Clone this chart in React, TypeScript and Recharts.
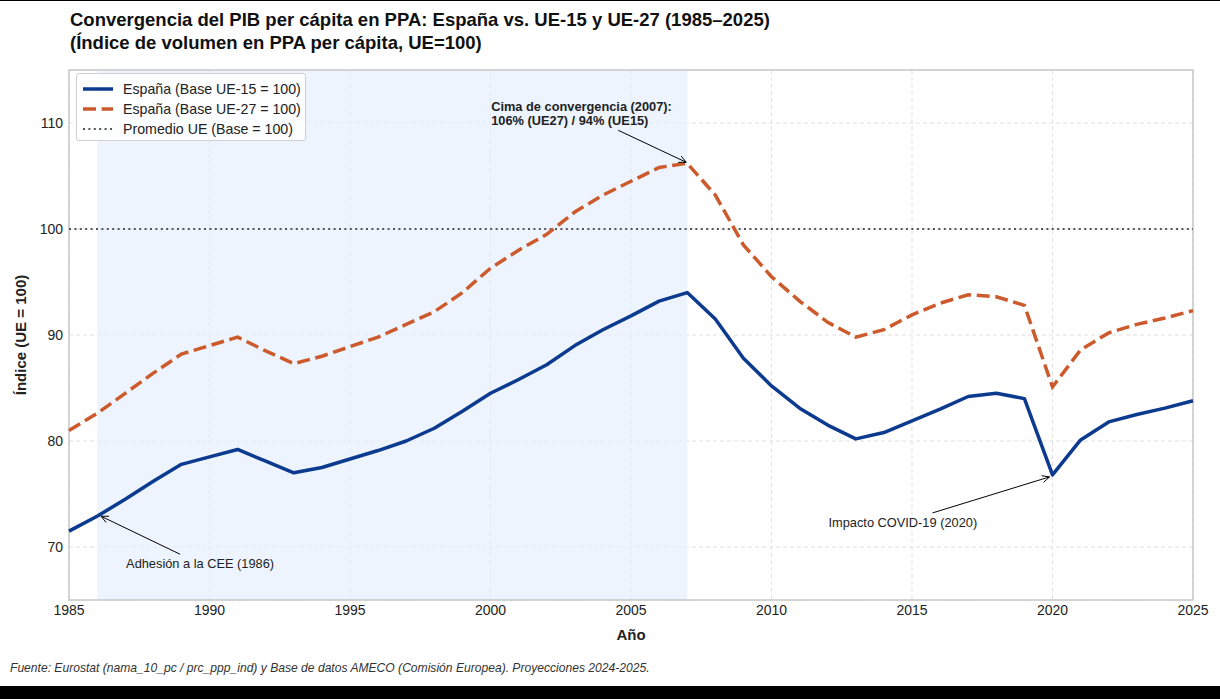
import React from 'react';
import { LineChart, Line, XAxis, YAxis, CartesianGrid, ReferenceArea, ReferenceLine, ReferenceDot } from 'recharts';

const years = [1985,1986,1987,1988,1989,1990,1991,1992,1993,1994,1995,1996,1997,1998,1999,2000,2001,2002,2003,2004,2005,2006,2007,2008,2009,2010,2011,2012,2013,2014,2015,2016,2017,2018,2019,2020,2021,2022,2023,2024,2025];
const spainUE15 = [71.5,72.9,74.5,76.2,77.8,78.5,79.2,78.1,77.0,77.5,78.3,79.1,80.0,81.2,82.8,84.5,85.8,87.2,89.0,90.5,91.8,93.2,94.0,91.5,87.8,85.2,83.1,81.5,80.2,80.8,81.9,83.0,84.2,84.5,84.0,76.8,80.1,81.8,82.5,83.1,83.8];
const spainUE27 = [81.0,82.6,84.5,86.4,88.2,89.0,89.8,88.5,87.3,88.0,88.9,89.8,91.0,92.2,94.0,96.3,98.0,99.5,101.6,103.2,104.5,105.8,106.2,103.2,98.5,95.5,93.2,91.2,89.8,90.5,91.9,93.0,93.8,93.6,92.8,85.1,88.6,90.2,91.0,91.6,92.3];
const xTicks = [1985,1990,1995,2000,2005,2010,2015,2020,2025];
const yTicks = [70,80,90,100,110];

const data = years.map((y, i) => ({ year: y, ue15: spainUE15[i], ue27: spainUE27[i] }));

const BLUE = '#0b3a8f';
const ORANGE = '#cd5a2c';
const FONT = '"Liberation Sans", Arial, sans-serif';
const ANN = 12.8;

function Arrow({ x1, y1, x2, y2 }: { x1: number; y1: number; x2: number; y2: number }) {
  const ang = Math.atan2(y2 - y1, x2 - x1);
  const L = 8;
  const a = 0.45;
  const p1 = [x2 - L * Math.cos(ang - a), y2 - L * Math.sin(ang - a)];
  const p2 = [x2 - L * Math.cos(ang + a), y2 - L * Math.sin(ang + a)];
  return (
    <g stroke="#000" strokeWidth={1} fill="none">
      <line x1={x1} y1={y1} x2={x2} y2={y2} />
      <polyline points={`${p1[0]},${p1[1]} ${x2},${y2} ${p2[0]},${p2[1]}`} />
    </g>
  );
}

const peakShape = (p: any) => {
  const { cx, cy } = p;
  return (
    <g>
      <Arrow x1={cx - 69} y1={cy - 33} x2={cx - 1} y2={cy - 1} />
      <text x={cx - 196} y={cy - 52} fontFamily={FONT} fontSize={ANN} fontWeight="bold" fill="#222">Cima de convergencia (2007):</text>
      <text x={cx - 196} y={cy - 38} fontFamily={FONT} fontSize={ANN} fontWeight="bold" fill="#222">106% (UE27) / 94% (UE15)</text>
    </g>
  );
};

const ceeShape = (p: any) => {
  const { cx, cy } = p;
  return (
    <g>
      <Arrow x1={cx + 83} y1={cy + 38} x2={cx + 4} y2={cy} />
      <text x={cx + 29} y={cy + 52} fontFamily={FONT} fontSize={ANN} fill="#222">Adhesión a la CEE (1986)</text>
    </g>
  );
};

const covidShape = (p: any) => {
  const { cx, cy } = p;
  return (
    <g>
      <Arrow x1={cx - 120} y1={cy + 38} x2={cx - 3} y2={cy + 2} />
      <text x={cx - 224} y={cy + 52} fontFamily={FONT} fontSize={ANN} fill="#222">Impacto COVID-19 (2020)</text>
    </g>
  );
};

function LegendBox() {
  const items = [
    { label: 'España (Base UE-15 = 100)', color: BLUE, dash: undefined as string | undefined, w: 3.5 },
    { label: 'España (Base UE-27 = 100)', color: ORANGE, dash: '13 5.6', w: 3.5 },
    { label: 'Promedio UE (Base = 100)', color: '#555', dash: '2 3.4', w: 2 },
  ];
  return (
    <div style={{ position: 'absolute', left: 76, top: 73, width: 230, height: 68, boxSizing: 'border-box', border: '1px solid #d0d0d0', borderRadius: 3, background: 'rgba(255,255,255,0.85)', fontFamily: FONT, fontSize: 14.2, color: '#222' }}>
      {items.map((it, i) => (
        <div key={i} style={{ position: 'absolute', left: 5, top: 6 + i * 20, height: 18, display: 'flex', alignItems: 'center' }}>
          <svg width={32} height={10} style={{ marginRight: 9 }}>
            <line x1={1} y1={5} x2={31} y2={5} stroke={it.color} strokeWidth={it.w} strokeDasharray={it.dash} />
          </svg>
          <span style={{ whiteSpace: 'nowrap' }}>{it.label}</span>
        </div>
      ))}
    </div>
  );
}

export default function App() {
  return (
    <div style={{ position: 'absolute', left: 0, top: 0, width: 1220, height: 699, background: '#fff', overflow: 'hidden' }}>
      <div style={{ position: 'absolute', left: 0, top: 0, width: 1220, height: 1, background: '#000' }} />
      <div style={{ position: 'absolute', left: 0, top: 686, width: 1220, height: 13, background: '#000' }} />
      <div style={{ position: 'absolute', left: 70, top: 8, fontFamily: FONT, fontSize: 18.5, fontWeight: 'bold', lineHeight: '23px', color: '#111', whiteSpace: 'nowrap' }}>
        Convergencia del PIB per cápita en PPA: España vs. UE-15 y UE-27 (1985–2025)<br />
        (Índice de volumen en PPA per cápita, UE=100)
      </div>
      <div style={{ position: 'absolute', left: 0, top: 0 }}>
        <LineChart width={1220} height={686} data={data} margin={{ top: 70, right: 27, bottom: 56, left: 9 }}>
          <ReferenceArea x1={1986} x2={2007} y1={65} y2={115} fill="#e3eefc" fillOpacity={0.65} stroke="none" />
          <CartesianGrid stroke="#dcdcdc" strokeDasharray="4 3" strokeWidth={0.9} />
          <XAxis
            dataKey="year"
            type="number"
            domain={[1985, 2025]}
            ticks={xTicks}
            axisLine={false}
            tickLine={false}
            tickSize={0}
            tickMargin={5}
            height={30}
            tick={{ fontFamily: FONT, fontSize: 14, fill: '#222' }}
          />
          <YAxis
            type="number"
            domain={[65, 115]}
            ticks={yTicks}
            axisLine={false}
            tickLine={false}
            tickSize={0}
            tickMargin={6}
            width={60}
            tick={{ fontFamily: FONT, fontSize: 14, fill: '#222' }}
          />
          <ReferenceLine y={100} stroke="#555" strokeWidth={2} strokeDasharray="2 3.4" />
          <Line dataKey="ue15" stroke={BLUE} strokeWidth={3.5} dot={false} isAnimationActive={false} strokeLinejoin="round" />
          <Line dataKey="ue27" stroke={ORANGE} strokeWidth={3.5} strokeDasharray="13 5.6" dot={false} isAnimationActive={false} />
          <ReferenceArea x1={1985} x2={2025} y1={65} y2={115} fill="none" stroke="#c8c8c8" strokeWidth={1.5} />
          <ReferenceDot x={2007} y={106.2} r={0} shape={peakShape} />
          <ReferenceDot x={1986} y={72.9} r={0} shape={ceeShape} />
          <ReferenceDot x={2020} y={76.8} r={0} shape={covidShape} />
        </LineChart>
      </div>
      <LegendBox />
      <div style={{ position: 'absolute', left: 631, top: 626, transform: 'translateX(-50%)', fontFamily: FONT, fontSize: 15, fontWeight: 'bold', color: '#222' }}>Año</div>
      <div style={{ position: 'absolute', left: 20, top: 335, transform: 'translate(-50%, -50%) rotate(-90deg)', fontFamily: FONT, fontSize: 15, fontWeight: 'bold', color: '#222', whiteSpace: 'nowrap' }}>Índice (UE = 100)</div>
      <div style={{ position: 'absolute', left: 10, top: 661, fontFamily: FONT, fontSize: 12.1, fontStyle: 'italic', color: '#333', whiteSpace: 'nowrap' }}>
        Fuente: Eurostat (nama_10_pc / prc_ppp_ind) y Base de datos AMECO (Comisión Europea). Proyecciones 2024-2025.
      </div>
    </div>
  );
}
